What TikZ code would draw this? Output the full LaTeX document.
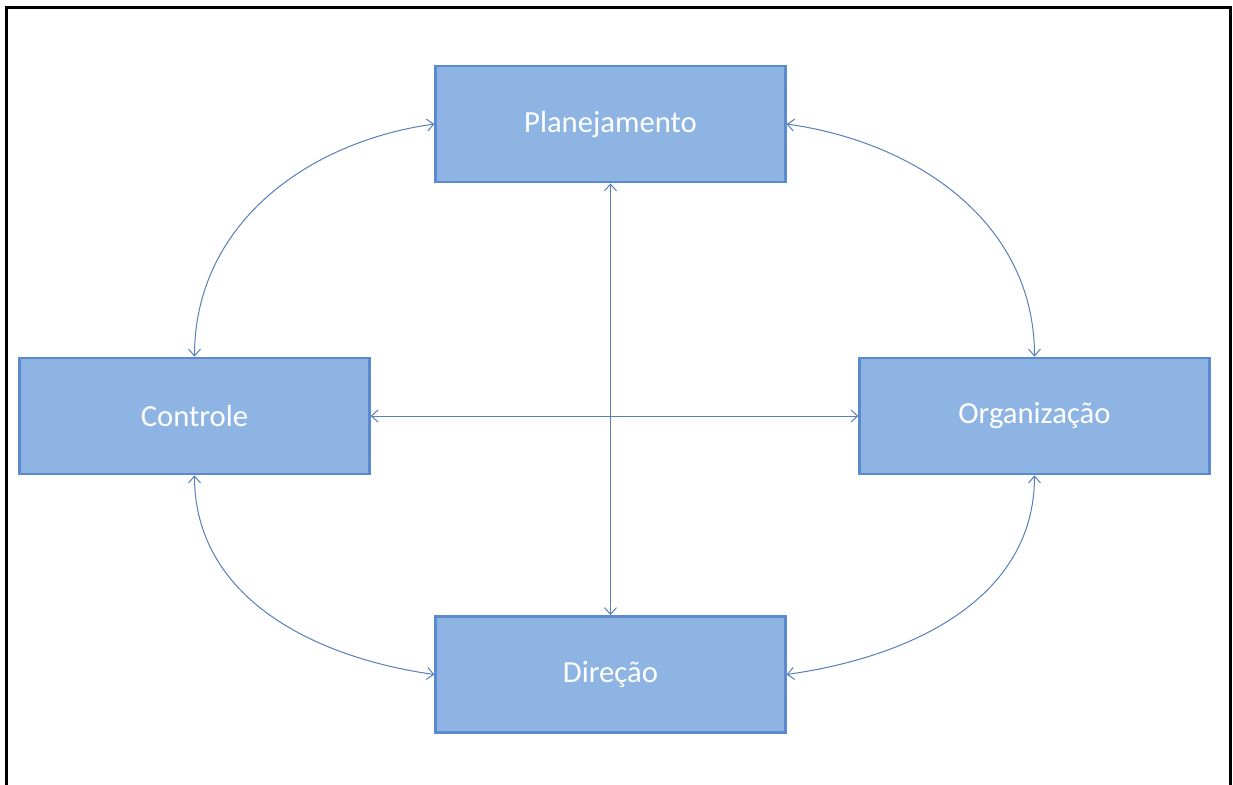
\documentclass[tikz,border=0pt]{standalone}
\usepackage{fontspec}
\setmainfont{Carlito}
\usetikzlibrary{arrows.meta}
\definecolor{boxfill}{HTML}{8DB4E2}
\definecolor{boxline}{HTML}{5B8AD0}
\definecolor{conn}{HTML}{5580B8}
\tikzset{
  stepbox/.style={draw=boxline, line width=2.2pt, fill=boxfill, minimum width=262pt, minimum height=87pt, inner sep=0pt, text=white, font=\fontsize{23}{27}\selectfont},
  link/.style={draw=conn, line width=0.75pt, {Straight Barb[length=5pt,width=9pt]}-{Straight Barb[length=5pt,width=9pt]}}
}
\begin{document}
\begin{tikzpicture}[x=0.75pt,y=-0.75pt]
\useasboundingbox (0,0) rectangle (1233,785);
\fill[white] (0,0) rectangle (1233,785);
\draw[line width=2.5pt, line cap=rect] (6.5,790) -- (6.5,7.5) -- (1230.5,7.5) -- (1230.5,790);
\node[stepbox] (P) at (610.5,124) {Planejamento};
\node[stepbox] (C) at (194.5,416) {Controle};
\node[stepbox] (O) at (1034.5,416) {Organização};
\node[stepbox] (D) at (610.5,674.5) {Direção};
\draw[link] (P.south) -- (D.north);
\draw[link] (C.east) -- (O.west);
\draw[link] (P.west) to[out=188,in=90] (C.north);
\draw[link] (P.east) to[out=-8,in=90] (O.north);
\draw[link] (C.south) to[out=-90,in=172] (D.west);
\draw[link] (O.south) to[out=-90,in=8] (D.east);
\end{tikzpicture}
\end{document}
